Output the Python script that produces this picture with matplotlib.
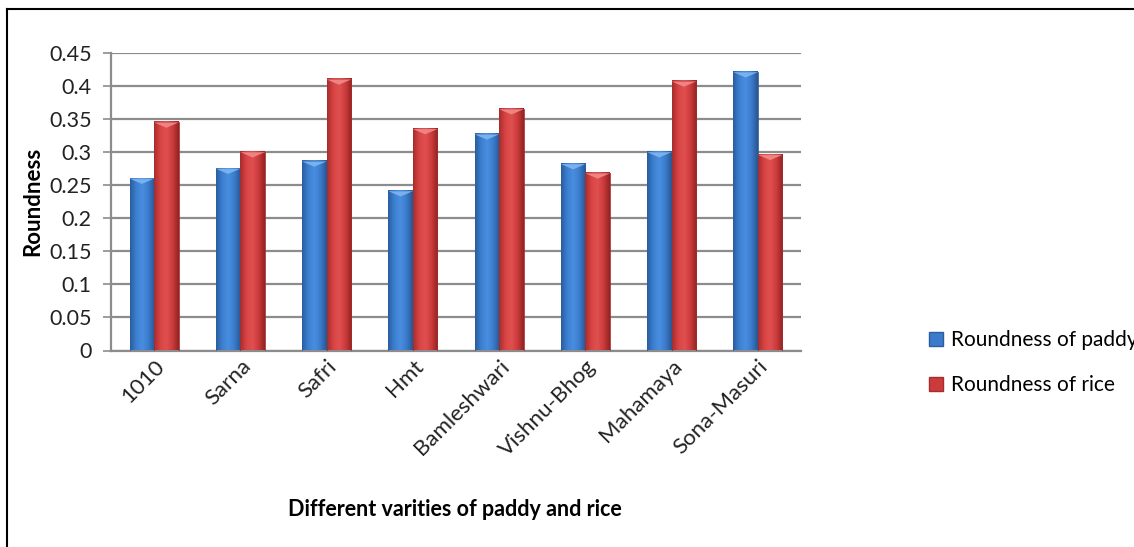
import matplotlib.pyplot as plt
import numpy as np
from matplotlib.colors import LinearSegmentedColormap
from matplotlib.lines import Line2D
from matplotlib.patches import Polygon, Rectangle

plt.rcParams['font.family'] = ['Lato', 'DejaVu Sans']

varieties = ["1010", "Sarna", "Safri", "Hmt", "Bamleshwari",
             "Vishnu-Bhog", "Mahamaya", "Sona-Masuri"]
paddy = [0.260, 0.275, 0.286, 0.241, 0.327, 0.282, 0.300, 0.421]
rice = [0.345, 0.300, 0.410, 0.335, 0.365, 0.268, 0.407, 0.296]
series_names = ["Roundness of paddy", "Roundness of rice"]
yticks = [0, 0.05, 0.1, 0.15, 0.2, 0.25, 0.3, 0.35, 0.4, 0.45]

blue_cmap = LinearSegmentedColormap.from_list(
    "blue_cyl", ["#2b5d9f", "#3c80d2", "#4a8ee0", "#3a7bcc", "#2a5590"])
red_cmap = LinearSegmentedColormap.from_list(
    "red_cyl", ["#a82c2c", "#d94444", "#e05050", "#cc3b3b", "#912424"])
cap_colors = ["#7fb6f0", "#f08a8a"]

fig = plt.figure(figsize=(11.34, 5.47), dpi=100)
ax = fig.add_axes([111 / 1134, 1 - 350.5 / 547, (801 - 111) / 1134, (350.5 - 53) / 547])

n = len(varieties)
x = np.arange(n)
bw = 0.285
grad = np.linspace(0, 1, 64).reshape(1, -1)


def shaded_bar(xc, h, cmap, cap):
    left, right = xc - bw / 2, xc + bw / 2
    ax.imshow(grad, cmap=cmap, aspect="auto", extent=(left, right, 0, h),
              zorder=3, interpolation="bicubic")
    ax.add_patch(Rectangle((left, 0), bw, h, fill=False, ec=cmap(0.0),
                           lw=0.6, zorder=4))
    # bevelled top edge
    bev = 0.008
    ax.add_patch(Polygon([(left, h), (right, h), (xc, h - bev)],
                         closed=True, fc=cap, ec="none", alpha=0.9, zorder=4))


for i in range(n):
    shaded_bar(x[i] - bw / 2, paddy[i], blue_cmap, cap_colors[0])
    shaded_bar(x[i] + bw / 2, rice[i], red_cmap, cap_colors[1])

ax.set_xlim(-0.5, n - 0.5)
ax.set_ylim(0, 0.45)
ax.set_yticks(yticks)
ax.set_yticklabels([f"{v:g}" for v in yticks], fontsize=15.5, color="#222222")
ax.yaxis.grid(True, color="#8c8c8c", lw=1.6, zorder=0)
ax.set_axisbelow(True)
ax.tick_params(axis="y", length=6, width=1.2, color="#8c8c8c", pad=8)
ax.tick_params(axis="x", length=0, pad=4)
ax.set_xticks(x)
ax.set_xticklabels(varieties, rotation=45, ha="right", rotation_mode="anchor",
                   fontsize=16, color="#222222")
for side in ["top", "right"]:
    ax.spines[side].set_visible(False)
ax.spines["left"].set_color("#8c8c8c")
ax.spines["left"].set_linewidth(1.6)
ax.spines["bottom"].set_color("#8c8c8c")
ax.spines["bottom"].set_linewidth(1.6)

ax.set_ylabel("Roundness", fontsize=16, fontweight="bold", labelpad=4)
fig.text(455 / 1134, 1 - 510 / 547, "Different varities of paddy and rice",
         ha="center", va="center", fontsize=15.5, fontweight="bold")

# legend at the right, clipped by the figure edge
handles = [Rectangle((0, 0), 1, 1, fc="#3a7bcc", ec="#2b5d9f"),
           Rectangle((0, 0), 1, 1, fc="#cc3b3b", ec="#a82c2c")]
fig.legend(handles, series_names, loc="upper left",
           bbox_to_anchor=(921 / 1134, 1 - 322 / 547), frameon=False,
           fontsize=15, handlelength=0.65, handleheight=0.65,
           handletextpad=0.4, labelspacing=1.2, borderaxespad=0)

# outer chart border
fig.add_artist(Line2D([7 / 1134, 7 / 1134], [0, 1 - 9 / 547],
                      transform=fig.transFigure, color="black", lw=1.5))
fig.add_artist(Line2D([7 / 1134, 1], [1 - 9 / 547, 1 - 9 / 547],
                      transform=fig.transFigure, color="black", lw=1.5))

fig.savefig("out.png", dpi=100)
